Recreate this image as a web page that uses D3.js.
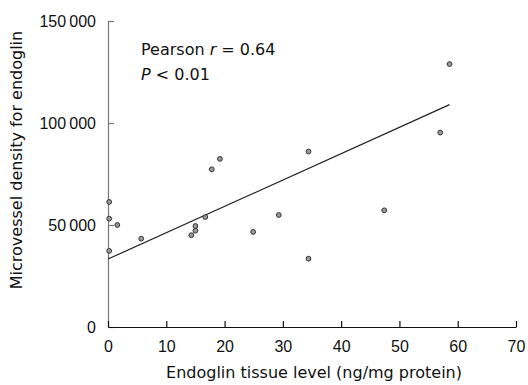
<!DOCTYPE html>
<html>
<head>
<meta charset="utf-8">
<script src="https://cdn.jsdelivr.net/npm/d3@7"></script>
<style>
  body { margin: 0; background: #fff; }
  svg { display: block; font-family: "DejaVu Sans", Verdana, sans-serif; }
</style>
</head>
<body>
<svg width="528" height="385"></svg>
<script>
(function () {

	// endoglin tissue level (ng/mg protein)
	var tissue = [0.2, 0.2, 1.6, 0.2, 5.7, 14.3, 15.0, 15.0, 16.7, 17.8, 19.2, 24.9, 29.3, 34.4, 34.4, 47.4, 57.0, 58.6];
	// microvessel density for endoglin
	var density = [61300, 53100, 50000, 37300, 43300, 45000, 47200, 49500, 53900, 77300, 82400, 46600, 54900, 86000, 33500, 57200, 95300, 128900];

	var xTicks = [0, 10, 20, 30, 40, 50, 60, 70];
	var yTicks = [0, 50000, 100000, 150000];

	// fitted line as drawn: intercept, slope, x range
	var fitIntercept = 33300;
	var fitSlope = 1292;
	var fitRange = [0, 58.6];

	var datapoints = tissue.map(function (t, i) {
		return { x: t, y: density[i] };
	});

	var svg = d3.select("svg");

	var xScale = d3.scaleLinear()
		.domain([0, 70])
		.range([108, 516]);

	var yScale = d3.scaleLinear()
		.domain([0, 150000])
		.range([327, 21]);

	var fmt = function (d) {
		return d3.format(",")(d).replace(/,/g, "\u2009");
	};

	var yAxis = svg.append("g")
		.attr("transform", "translate(108,0)")
		.call(d3.axisLeft(yScale).tickValues(yTicks).tickFormat(fmt).tickSizeInner(-6).tickSizeOuter(0).tickPadding(12));

	yAxis.selectAll("path, line").attr("stroke", "#777").attr("stroke-width", 1.2);
	yAxis.selectAll("text").attr("font-size", 16).attr("fill", "#111").attr("font-family", null);

	var xAxis = svg.append("g")
		.attr("transform", "translate(0,327)")
		.call(d3.axisBottom(xScale).tickValues(xTicks).tickSizeInner(-6).tickSizeOuter(0).tickPadding(14));

	xAxis.selectAll("path, line").attr("stroke", "#111").attr("stroke-width", 1.2);
	xAxis.selectAll("text").attr("font-size", 16).attr("fill", "#111").attr("font-family", null);

	// regression line
	svg.append("line")
		.attr("x1", xScale(fitRange[0]))
		.attr("y1", yScale(fitIntercept + fitSlope * fitRange[0]))
		.attr("x2", xScale(fitRange[1]))
		.attr("y2", yScale(fitIntercept + fitSlope * fitRange[1]))
		.attr("stroke", "#222")
		.attr("stroke-width", 1.2);

	svg.selectAll("circle")
		.data(datapoints)
		.enter()
		.append("circle")
		.attr("cx", function (d) { return xScale(d.x); })
		.attr("cy", function (d) { return yScale(d.y); })
		.attr("r", 2.4)
		.attr("fill", "#999")
		.attr("stroke", "#333")
		.attr("stroke-width", 1);

	// annotation
	var note = svg.append("text")
		.attr("x", 141)
		.attr("y", 55)
		.attr("font-size", 16)
		.attr("fill", "#111");
	note.append("tspan").text("Pearson ");
	note.append("tspan").attr("font-style", "italic").text("r");
	note.append("tspan").text(" = 0.64");

	var note2 = svg.append("text")
		.attr("x", 141)
		.attr("y", 80)
		.attr("font-size", 16)
		.attr("fill", "#111");
	note2.append("tspan").attr("font-style", "italic").text("P");
	note2.append("tspan").text(" < 0.01");

	// axis titles
	svg.append("text")
		.attr("x", 314)
		.attr("y", 378)
		.attr("text-anchor", "middle")
		.attr("font-size", 16)
		.attr("fill", "#111")
		.text("Endoglin tissue level (ng/mg protein)");

	svg.append("text")
		.attr("transform", "translate(22,160) rotate(-90)")
		.attr("text-anchor", "middle")
		.attr("font-size", 16)
		.attr("fill", "#111")
		.text("Microvessel density for endoglin");

})();
</script>
</body>
</html>
